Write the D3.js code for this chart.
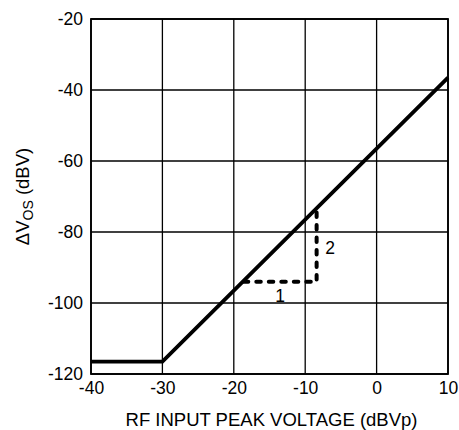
<!DOCTYPE html>
<html>
<head>
<meta charset="utf-8">
<script src="https://cdn.jsdelivr.net/npm/d3@7"></script>
<style>
  body { margin: 0; background: #fff; }
  text { font-family: "Liberation Sans", Arial, sans-serif; fill: #000; }
</style>
</head>
<body>
<div class="canvas"></div>
<script>
var width = 459,
   height = 430;

var margin = {top: 19, right: 11, bottom: 56, left: 91};

// data
var xTicks = [-40, -30, -20, -10, 0, 10];
var yTicks = [-120, -100, -80, -60, -40, -20];
var inputDbv = [-40, -30, 10];
var offsetDbv = [-116.5, -116.5, -36.5];
// slope triangle: 1 dB across, 2 dB up
var triX = [-18.6, -8.4, -8.4];
var triY = [-94, -94, -73.5];

var x = d3.scaleLinear().domain([-40, 10]).range([margin.left, width - margin.right]);
var y = d3.scaleLinear().domain([-120, -20]).range([height - margin.bottom, margin.top]);

const svg = d3.select('.canvas')
   .append('svg')
   .attr('width', width)
   .attr('height', height);

// grid
svg.append('g')
   .selectAll('line')
   .data(xTicks)
   .enter().append('line')
      .attr('x1', d => x(d)).attr('x2', d => x(d))
      .attr('y1', y(-120)).attr('y2', y(-20))
      .attr('stroke', '#000').attr('stroke-width', 1.3);

svg.append('g')
   .selectAll('line')
   .data(yTicks)
   .enter().append('line')
      .attr('x1', x(-40)).attr('x2', x(10))
      .attr('y1', d => y(d)).attr('y2', d => y(d))
      .attr('stroke', '#000').attr('stroke-width', 1.3);

// frame
svg.append('rect')
   .attr('x', x(-40)).attr('y', y(-20))
   .attr('width', x(10) - x(-40)).attr('height', y(-120) - y(-20))
   .attr('fill', 'none').attr('stroke', '#000').attr('stroke-width', 1.8);

// axes (labels only), plain hyphen for the minus sign
var xAxis = svg.append('g')
   .attr('transform', 'translate(0,' + y(-120) + ')')
   .call(d3.axisBottom(x).tickValues(xTicks).tickSize(0).tickPadding(8).tickFormat(d => String(d)));
var yAxis = svg.append('g')
   .attr('transform', 'translate(' + x(-40) + ',0)')
   .call(d3.axisLeft(y).tickValues(yTicks).tickSize(0).tickPadding(8).tickFormat(d => String(d)));

[xAxis, yAxis].forEach(a => {
   a.select('.domain').remove();
   a.selectAll('text').style('font-size', '17.5px').style('font-family', '"Liberation Sans", Arial, sans-serif');
});

// main curve
var line = d3.line().x(d => x(d[0])).y(d => y(d[1]));
svg.append('path')
   .datum(d3.zip(inputDbv, offsetDbv))
   .attr('d', line)
   .attr('fill', 'none')
   .attr('stroke', '#000')
   .attr('stroke-width', 3.8);

// slope triangle
svg.append('path')
   .datum(d3.zip(triX, triY))
   .attr('d', line)
   .attr('fill', 'none')
   .attr('stroke', '#000')
   .attr('stroke-width', 4)
   .attr('stroke-linecap', 'round')
   .attr('stroke-dasharray', '4.5,8');

svg.append('text')
   .attr('x', x(-13.5)).attr('y', y(-98.5))
   .attr('text-anchor', 'middle')
   .attr('dominant-baseline', 'middle')
   .style('font-size', '17.5px')
   .text('1');

svg.append('text')
   .attr('x', x(-6.5)).attr('y', y(-85))
   .attr('text-anchor', 'middle')
   .attr('dominant-baseline', 'middle')
   .style('font-size', '17.5px')
   .text('2');

// axis titles
svg.append('text')
   .attr('x', (x(-40) + x(10)) / 2 + 2).attr('y', 426)
   .attr('text-anchor', 'middle')
   .style('font-size', '18.5px')
   .text('RF INPUT PEAK VOLTAGE (dBVp)');

var yt = svg.append('text')
   .attr('transform', 'translate(28.5,' + ((y(-20) + y(-120)) / 2) + ') rotate(-90)')
   .attr('text-anchor', 'middle')
   .style('font-size', '18.5px');
yt.append('tspan').text('\u0394V');
yt.append('tspan').attr('dy', 4).style('font-size', '14px').text('OS');
yt.append('tspan').attr('dy', -4).text(' (dBV)');
</script>
</body>
</html>
